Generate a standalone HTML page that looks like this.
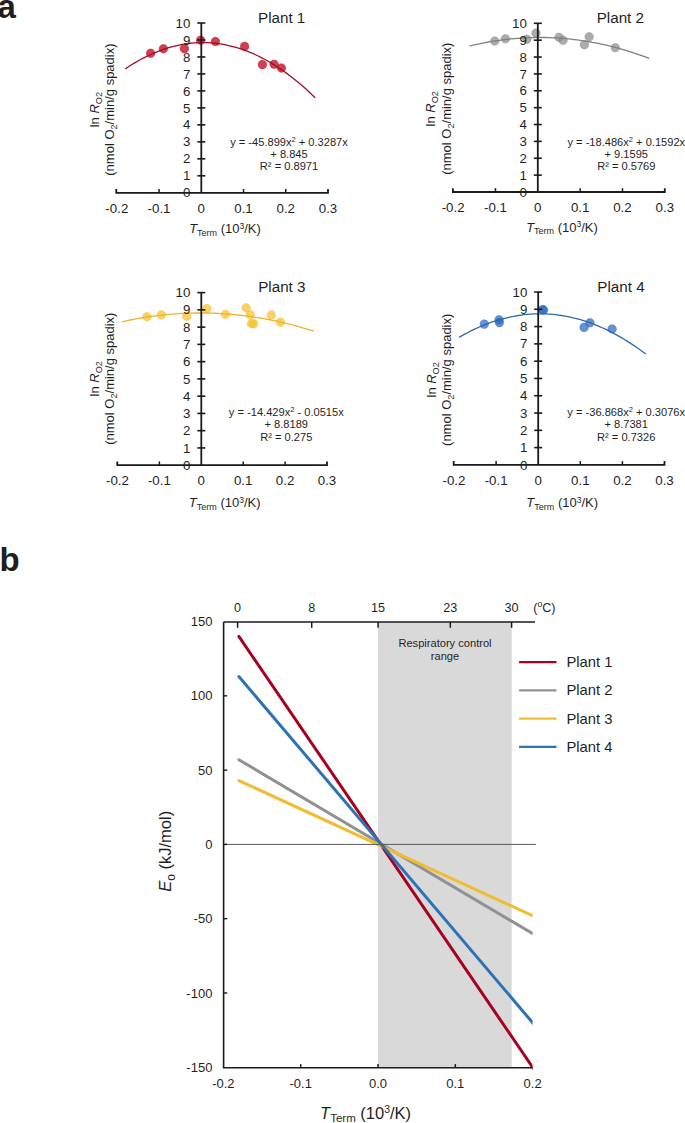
<!DOCTYPE html>
<html><head><meta charset="utf-8"><style>
html,body{margin:0;padding:0;background:#fff;width:685px;height:1123px;overflow:hidden}
svg{display:block}
text{font-family:"Liberation Sans", sans-serif;fill:#1f1f1f}
</style></head><body>
<svg width="685" height="1123" viewBox="0 0 685 1123">
<circle cx="150.6" cy="53.3" r="4.3" fill="#bc0218" fill-opacity="0.75" stroke="#bc0218" stroke-opacity="0.85" stroke-width="0.5"/>
<circle cx="163.4" cy="48.8" r="4.3" fill="#bc0218" fill-opacity="0.75" stroke="#bc0218" stroke-opacity="0.85" stroke-width="0.5"/>
<circle cx="184.4" cy="48.6" r="4.3" fill="#bc0218" fill-opacity="0.75" stroke="#bc0218" stroke-opacity="0.85" stroke-width="0.5"/>
<circle cx="200.6" cy="40.2" r="4.3" fill="#bc0218" fill-opacity="0.75" stroke="#bc0218" stroke-opacity="0.85" stroke-width="0.5"/>
<circle cx="215.4" cy="41.5" r="4.3" fill="#bc0218" fill-opacity="0.75" stroke="#bc0218" stroke-opacity="0.85" stroke-width="0.5"/>
<circle cx="244.6" cy="46.4" r="4.3" fill="#bc0218" fill-opacity="0.75" stroke="#bc0218" stroke-opacity="0.85" stroke-width="0.5"/>
<circle cx="262.4" cy="64.6" r="4.3" fill="#bc0218" fill-opacity="0.75" stroke="#bc0218" stroke-opacity="0.85" stroke-width="0.5"/>
<circle cx="274.1" cy="64.3" r="4.3" fill="#bc0218" fill-opacity="0.75" stroke="#bc0218" stroke-opacity="0.85" stroke-width="0.5"/>
<circle cx="281.4" cy="68.0" r="4.3" fill="#bc0218" fill-opacity="0.75" stroke="#bc0218" stroke-opacity="0.85" stroke-width="0.5"/>
<polyline points="125.26 68.88 128.43 66.78 131.59 64.77 134.76 62.84 137.92 61.00 141.09 59.25 144.25 57.59 147.42 56.01 150.58 54.52 153.75 53.12 156.91 51.81 160.08 50.58 163.25 49.44 166.41 48.39 169.58 47.43 172.74 46.55 175.91 45.76 179.07 45.06 182.24 44.45 185.40 43.93 188.57 43.49 191.73 43.14 194.90 42.88 198.07 42.70 201.23 42.61 204.40 42.61 207.56 42.70 210.73 42.88 213.89 43.14 217.06 43.49 220.22 43.93 223.39 44.45 226.55 45.06 229.72 45.77 232.89 46.55 236.05 47.43 239.22 48.39 242.38 49.44 245.55 50.58 248.71 51.81 251.88 53.12 255.04 54.52 258.21 56.01 261.37 57.59 264.54 59.25 267.70 61.00 270.87 62.84 274.04 64.77 277.20 66.78 280.37 68.88 283.53 71.07 286.70 73.35 289.86 75.71 293.03 78.17 296.19 80.70 299.36 83.33 302.52 86.05 305.69 88.85 308.86 91.74 312.02 94.72 315.19 97.78" fill="none" stroke="#a50a28" stroke-width="1.3"/>
<path d="M116.30 189.00V192.80H328.00V189.00" fill="none" stroke="#1a1a1a" stroke-width="1.8"/>
<line x1="159.07" y1="192.80" x2="159.07" y2="189.00" stroke="#1a1a1a" stroke-width="1.5"/>
<line x1="243.53" y1="192.80" x2="243.53" y2="189.00" stroke="#1a1a1a" stroke-width="1.5"/>
<line x1="285.77" y1="192.80" x2="285.77" y2="189.00" stroke="#1a1a1a" stroke-width="1.5"/>
<line x1="201.30" y1="23.00" x2="201.30" y2="192.80" stroke="#1a1a1a" stroke-width="1.8"/>
<line x1="197.30" y1="175.82" x2="205.30" y2="175.82" stroke="#1a1a1a" stroke-width="1.6"/>
<line x1="197.30" y1="158.84" x2="205.30" y2="158.84" stroke="#1a1a1a" stroke-width="1.6"/>
<line x1="197.30" y1="141.86" x2="205.30" y2="141.86" stroke="#1a1a1a" stroke-width="1.6"/>
<line x1="197.30" y1="124.88" x2="205.30" y2="124.88" stroke="#1a1a1a" stroke-width="1.6"/>
<line x1="197.30" y1="107.90" x2="205.30" y2="107.90" stroke="#1a1a1a" stroke-width="1.6"/>
<line x1="197.30" y1="90.92" x2="205.30" y2="90.92" stroke="#1a1a1a" stroke-width="1.6"/>
<line x1="197.30" y1="73.94" x2="205.30" y2="73.94" stroke="#1a1a1a" stroke-width="1.6"/>
<line x1="197.30" y1="56.96" x2="205.30" y2="56.96" stroke="#1a1a1a" stroke-width="1.6"/>
<line x1="197.30" y1="39.98" x2="205.30" y2="39.98" stroke="#1a1a1a" stroke-width="1.6"/>
<line x1="197.30" y1="23.00" x2="205.30" y2="23.00" stroke="#1a1a1a" stroke-width="1.6"/>
<text x="190.40" y="197.40" text-anchor="end" font-size="13.3">0</text>
<text x="190.40" y="180.42" text-anchor="end" font-size="13.3">1</text>
<text x="190.40" y="163.44" text-anchor="end" font-size="13.3">2</text>
<text x="190.40" y="146.46" text-anchor="end" font-size="13.3">3</text>
<text x="190.40" y="129.48" text-anchor="end" font-size="13.3">4</text>
<text x="190.40" y="112.50" text-anchor="end" font-size="13.3">5</text>
<text x="190.40" y="95.52" text-anchor="end" font-size="13.3">6</text>
<text x="190.40" y="78.54" text-anchor="end" font-size="13.3">7</text>
<text x="190.40" y="61.56" text-anchor="end" font-size="13.3">8</text>
<text x="190.40" y="44.58" text-anchor="end" font-size="13.3">9</text>
<text x="190.40" y="27.60" text-anchor="end" font-size="13.3">10</text>
<text x="116.83" y="212.50" text-anchor="middle" font-size="13.3">-0.2</text>
<text x="159.07" y="212.50" text-anchor="middle" font-size="13.3">-0.1</text>
<text x="201.30" y="212.50" text-anchor="middle" font-size="13.3">0</text>
<text x="243.53" y="212.50" text-anchor="middle" font-size="13.3">0.1</text>
<text x="285.77" y="212.50" text-anchor="middle" font-size="13.3">0.2</text>
<text x="328.00" y="212.50" text-anchor="middle" font-size="13.3">0.3</text>
<text x="258.00" y="22.80" font-size="15.2">Plant 1</text>
<text x="289.00" y="145.80" text-anchor="middle" font-size="11.1">y = -45.899x<tspan dy="-4" font-size="7.5">2</tspan><tspan dy="4"> + 0.3287x</tspan></text>
<text x="289.00" y="158.10" text-anchor="middle" font-size="11.1">+ 8.845</text>
<text x="289.00" y="170.40" text-anchor="middle" font-size="11.1">R² = 0.8971</text>
<text x="225.00" y="233.40" text-anchor="middle" font-size="13"><tspan font-style="italic">T</tspan><tspan font-size="9" dy="2.5">Term</tspan><tspan dy="-2.5"> (10</tspan><tspan font-size="8.5" dy="-4.5">3</tspan><tspan dy="4.5">/K)</tspan></text>
<g transform="translate(98.90,109.60) rotate(-90)"><text x="0" y="0" text-anchor="middle" font-size="13">ln <tspan font-style="italic">R</tspan><tspan font-size="9.2" dy="2.8">O2</tspan></text></g>
<g transform="translate(114.20,109.60) rotate(-90)"><text x="0" y="0" text-anchor="middle" font-size="13">(nmol O<tspan font-size="9.2" dy="2.8">2</tspan><tspan dy="-2.8">/min/g spadix)</tspan></text></g>
<circle cx="494.7" cy="41.0" r="4.3" fill="#8c8c8c" fill-opacity="0.72" stroke="#8c8c8c" stroke-opacity="0.85" stroke-width="0.5"/>
<circle cx="505.4" cy="38.8" r="4.3" fill="#8c8c8c" fill-opacity="0.72" stroke="#8c8c8c" stroke-opacity="0.85" stroke-width="0.5"/>
<circle cx="526.8" cy="39.2" r="4.3" fill="#8c8c8c" fill-opacity="0.72" stroke="#8c8c8c" stroke-opacity="0.85" stroke-width="0.5"/>
<circle cx="536.0" cy="33.1" r="4.3" fill="#8c8c8c" fill-opacity="0.72" stroke="#8c8c8c" stroke-opacity="0.85" stroke-width="0.5"/>
<circle cx="559.0" cy="37.3" r="4.3" fill="#8c8c8c" fill-opacity="0.72" stroke="#8c8c8c" stroke-opacity="0.85" stroke-width="0.5"/>
<circle cx="563.0" cy="40.3" r="4.3" fill="#8c8c8c" fill-opacity="0.72" stroke="#8c8c8c" stroke-opacity="0.85" stroke-width="0.5"/>
<circle cx="584.4" cy="44.7" r="4.3" fill="#8c8c8c" fill-opacity="0.72" stroke="#8c8c8c" stroke-opacity="0.85" stroke-width="0.5"/>
<circle cx="589.2" cy="36.8" r="4.3" fill="#8c8c8c" fill-opacity="0.72" stroke="#8c8c8c" stroke-opacity="0.85" stroke-width="0.5"/>
<circle cx="615.3" cy="47.7" r="4.3" fill="#8c8c8c" fill-opacity="0.72" stroke="#8c8c8c" stroke-opacity="0.85" stroke-width="0.5"/>
<polyline points="469.30 46.08 472.30 45.36 475.30 44.67 478.29 44.02 481.29 43.39 484.29 42.80 487.29 42.24 490.28 41.71 493.28 41.21 496.28 40.74 499.28 40.31 502.28 39.90 505.27 39.53 508.27 39.18 511.27 38.87 514.27 38.59 517.26 38.34 520.26 38.13 523.26 37.94 526.26 37.78 529.26 37.66 532.25 37.57 535.25 37.51 538.25 37.48 541.25 37.48 544.24 37.51 547.24 37.57 550.24 37.67 553.24 37.80 556.24 37.95 559.23 38.14 562.23 38.36 565.23 38.61 568.23 38.90 571.22 39.21 574.22 39.56 577.22 39.93 580.22 40.34 583.22 40.78 586.21 41.25 589.21 41.75 592.21 42.29 595.21 42.85 598.20 43.45 601.20 44.07 604.20 44.73 607.20 45.42 610.20 46.14 613.19 46.89 616.19 47.68 619.19 48.49 622.19 49.34 625.18 50.21 628.18 51.12 631.18 52.06 634.18 53.03 637.18 54.03 640.17 55.07 643.17 56.13 646.17 57.23 649.17 58.36" fill="none" stroke="#808080" stroke-width="1.3"/>
<path d="M452.90 188.20V192.00H664.80V188.20" fill="none" stroke="#1a1a1a" stroke-width="1.8"/>
<line x1="495.47" y1="192.00" x2="495.47" y2="188.20" stroke="#1a1a1a" stroke-width="1.5"/>
<line x1="580.13" y1="192.00" x2="580.13" y2="188.20" stroke="#1a1a1a" stroke-width="1.5"/>
<line x1="622.47" y1="192.00" x2="622.47" y2="188.20" stroke="#1a1a1a" stroke-width="1.5"/>
<line x1="537.80" y1="23.30" x2="537.80" y2="192.00" stroke="#1a1a1a" stroke-width="1.8"/>
<line x1="533.80" y1="175.13" x2="541.80" y2="175.13" stroke="#1a1a1a" stroke-width="1.6"/>
<line x1="533.80" y1="158.26" x2="541.80" y2="158.26" stroke="#1a1a1a" stroke-width="1.6"/>
<line x1="533.80" y1="141.39" x2="541.80" y2="141.39" stroke="#1a1a1a" stroke-width="1.6"/>
<line x1="533.80" y1="124.52" x2="541.80" y2="124.52" stroke="#1a1a1a" stroke-width="1.6"/>
<line x1="533.80" y1="107.65" x2="541.80" y2="107.65" stroke="#1a1a1a" stroke-width="1.6"/>
<line x1="533.80" y1="90.78" x2="541.80" y2="90.78" stroke="#1a1a1a" stroke-width="1.6"/>
<line x1="533.80" y1="73.91" x2="541.80" y2="73.91" stroke="#1a1a1a" stroke-width="1.6"/>
<line x1="533.80" y1="57.04" x2="541.80" y2="57.04" stroke="#1a1a1a" stroke-width="1.6"/>
<line x1="533.80" y1="40.17" x2="541.80" y2="40.17" stroke="#1a1a1a" stroke-width="1.6"/>
<line x1="533.80" y1="23.30" x2="541.80" y2="23.30" stroke="#1a1a1a" stroke-width="1.6"/>
<text x="526.90" y="196.60" text-anchor="end" font-size="13.3">0</text>
<text x="526.90" y="179.73" text-anchor="end" font-size="13.3">1</text>
<text x="526.90" y="162.86" text-anchor="end" font-size="13.3">2</text>
<text x="526.90" y="145.99" text-anchor="end" font-size="13.3">3</text>
<text x="526.90" y="129.12" text-anchor="end" font-size="13.3">4</text>
<text x="526.90" y="112.25" text-anchor="end" font-size="13.3">5</text>
<text x="526.90" y="95.38" text-anchor="end" font-size="13.3">6</text>
<text x="526.90" y="78.51" text-anchor="end" font-size="13.3">7</text>
<text x="526.90" y="61.64" text-anchor="end" font-size="13.3">8</text>
<text x="526.90" y="44.77" text-anchor="end" font-size="13.3">9</text>
<text x="526.90" y="27.90" text-anchor="end" font-size="13.3">10</text>
<text x="453.13" y="211.70" text-anchor="middle" font-size="13.3">-0.2</text>
<text x="495.47" y="211.70" text-anchor="middle" font-size="13.3">-0.1</text>
<text x="537.80" y="211.70" text-anchor="middle" font-size="13.3">0</text>
<text x="580.13" y="211.70" text-anchor="middle" font-size="13.3">0.1</text>
<text x="622.47" y="211.70" text-anchor="middle" font-size="13.3">0.2</text>
<text x="664.80" y="211.70" text-anchor="middle" font-size="13.3">0.3</text>
<text x="596.70" y="22.90" font-size="15.2">Plant 2</text>
<text x="626.30" y="145.50" text-anchor="middle" font-size="11.1">y = -18.486x<tspan dy="-4" font-size="7.5">2</tspan><tspan dy="4"> + 0.1592x</tspan></text>
<text x="626.30" y="157.80" text-anchor="middle" font-size="11.1">+ 9.1595</text>
<text x="626.30" y="170.10" text-anchor="middle" font-size="11.1">R² = 0.5769</text>
<text x="562.00" y="231.90" text-anchor="middle" font-size="13"><tspan font-style="italic">T</tspan><tspan font-size="9" dy="2.5">Term</tspan><tspan dy="-2.5"> (10</tspan><tspan font-size="8.5" dy="-4.5">3</tspan><tspan dy="4.5">/K)</tspan></text>
<g transform="translate(435.40,108.70) rotate(-90)"><text x="0" y="0" text-anchor="middle" font-size="13">ln <tspan font-style="italic">R</tspan><tspan font-size="9.2" dy="2.8">O2</tspan></text></g>
<g transform="translate(450.70,108.70) rotate(-90)"><text x="0" y="0" text-anchor="middle" font-size="13">(nmol O<tspan font-size="9.2" dy="2.8">2</tspan><tspan dy="-2.8">/min/g spadix)</tspan></text></g>
<circle cx="147.0" cy="316.7" r="4.3" fill="#f7c02a" fill-opacity="0.72" stroke="#f7c02a" stroke-opacity="0.85" stroke-width="0.5"/>
<circle cx="161.3" cy="314.9" r="4.3" fill="#f7c02a" fill-opacity="0.72" stroke="#f7c02a" stroke-opacity="0.85" stroke-width="0.5"/>
<circle cx="186.7" cy="316.3" r="4.3" fill="#f7c02a" fill-opacity="0.72" stroke="#f7c02a" stroke-opacity="0.85" stroke-width="0.5"/>
<circle cx="206.8" cy="308.6" r="4.3" fill="#f7c02a" fill-opacity="0.72" stroke="#f7c02a" stroke-opacity="0.85" stroke-width="0.5"/>
<circle cx="225.5" cy="314.3" r="4.3" fill="#f7c02a" fill-opacity="0.72" stroke="#f7c02a" stroke-opacity="0.85" stroke-width="0.5"/>
<circle cx="246.2" cy="307.7" r="4.3" fill="#f7c02a" fill-opacity="0.72" stroke="#f7c02a" stroke-opacity="0.85" stroke-width="0.5"/>
<circle cx="250.3" cy="314.7" r="4.3" fill="#f7c02a" fill-opacity="0.72" stroke="#f7c02a" stroke-opacity="0.85" stroke-width="0.5"/>
<circle cx="251.5" cy="323.5" r="4.3" fill="#f7c02a" fill-opacity="0.72" stroke="#f7c02a" stroke-opacity="0.85" stroke-width="0.5"/>
<circle cx="253.8" cy="323.8" r="4.3" fill="#f7c02a" fill-opacity="0.72" stroke="#f7c02a" stroke-opacity="0.85" stroke-width="0.5"/>
<circle cx="271.3" cy="315.1" r="4.3" fill="#f7c02a" fill-opacity="0.72" stroke="#f7c02a" stroke-opacity="0.85" stroke-width="0.5"/>
<circle cx="280.4" cy="322.1" r="4.3" fill="#f7c02a" fill-opacity="0.72" stroke="#f7c02a" stroke-opacity="0.85" stroke-width="0.5"/>
<polyline points="121.86 321.77 125.06 321.07 128.26 320.40 131.46 319.76 134.66 319.14 137.87 318.56 141.07 318.00 144.27 317.48 147.47 316.98 150.67 316.51 153.87 316.08 157.07 315.67 160.27 315.29 163.47 314.94 166.67 314.61 169.88 314.32 173.08 314.06 176.28 313.82 179.48 313.62 182.68 313.44 185.88 313.29 189.08 313.17 192.28 313.08 195.48 313.02 198.68 312.99 201.88 312.99 205.09 313.01 208.29 313.07 211.49 313.15 214.69 313.27 217.89 313.41 221.09 313.58 224.29 313.78 227.49 314.01 230.69 314.27 233.89 314.56 237.10 314.88 240.30 315.23 243.50 315.60 246.70 316.01 249.90 316.44 253.10 316.90 256.30 317.39 259.50 317.91 262.70 318.46 265.90 319.04 269.11 319.65 272.31 320.29 275.51 320.96 278.71 321.65 281.91 322.37 285.11 323.13 288.31 323.91 291.51 324.72 294.71 325.56 297.91 326.43 301.12 327.33 304.32 328.26 307.52 329.22 310.72 330.20 313.92 331.22" fill="none" stroke="#efb22c" stroke-width="1.3"/>
<path d="M117.30 461.40V465.20H327.00V461.40" fill="none" stroke="#1a1a1a" stroke-width="1.8"/>
<line x1="159.40" y1="465.20" x2="159.40" y2="461.40" stroke="#1a1a1a" stroke-width="1.5"/>
<line x1="243.20" y1="465.20" x2="243.20" y2="461.40" stroke="#1a1a1a" stroke-width="1.5"/>
<line x1="285.10" y1="465.20" x2="285.10" y2="461.40" stroke="#1a1a1a" stroke-width="1.5"/>
<line x1="201.30" y1="292.60" x2="201.30" y2="465.20" stroke="#1a1a1a" stroke-width="1.8"/>
<line x1="197.30" y1="447.94" x2="205.30" y2="447.94" stroke="#1a1a1a" stroke-width="1.6"/>
<line x1="197.30" y1="430.68" x2="205.30" y2="430.68" stroke="#1a1a1a" stroke-width="1.6"/>
<line x1="197.30" y1="413.42" x2="205.30" y2="413.42" stroke="#1a1a1a" stroke-width="1.6"/>
<line x1="197.30" y1="396.16" x2="205.30" y2="396.16" stroke="#1a1a1a" stroke-width="1.6"/>
<line x1="197.30" y1="378.90" x2="205.30" y2="378.90" stroke="#1a1a1a" stroke-width="1.6"/>
<line x1="197.30" y1="361.64" x2="205.30" y2="361.64" stroke="#1a1a1a" stroke-width="1.6"/>
<line x1="197.30" y1="344.38" x2="205.30" y2="344.38" stroke="#1a1a1a" stroke-width="1.6"/>
<line x1="197.30" y1="327.12" x2="205.30" y2="327.12" stroke="#1a1a1a" stroke-width="1.6"/>
<line x1="197.30" y1="309.86" x2="205.30" y2="309.86" stroke="#1a1a1a" stroke-width="1.6"/>
<line x1="197.30" y1="292.60" x2="205.30" y2="292.60" stroke="#1a1a1a" stroke-width="1.6"/>
<text x="190.40" y="469.80" text-anchor="end" font-size="13.3">0</text>
<text x="190.40" y="452.54" text-anchor="end" font-size="13.3">1</text>
<text x="190.40" y="435.28" text-anchor="end" font-size="13.3">2</text>
<text x="190.40" y="418.02" text-anchor="end" font-size="13.3">3</text>
<text x="190.40" y="400.76" text-anchor="end" font-size="13.3">4</text>
<text x="190.40" y="383.50" text-anchor="end" font-size="13.3">5</text>
<text x="190.40" y="366.24" text-anchor="end" font-size="13.3">6</text>
<text x="190.40" y="348.98" text-anchor="end" font-size="13.3">7</text>
<text x="190.40" y="331.72" text-anchor="end" font-size="13.3">8</text>
<text x="190.40" y="314.46" text-anchor="end" font-size="13.3">9</text>
<text x="190.40" y="297.20" text-anchor="end" font-size="13.3">10</text>
<text x="117.50" y="484.90" text-anchor="middle" font-size="13.3">-0.2</text>
<text x="159.40" y="484.90" text-anchor="middle" font-size="13.3">-0.1</text>
<text x="201.30" y="484.90" text-anchor="middle" font-size="13.3">0</text>
<text x="243.20" y="484.90" text-anchor="middle" font-size="13.3">0.1</text>
<text x="285.10" y="484.90" text-anchor="middle" font-size="13.3">0.2</text>
<text x="327.00" y="484.90" text-anchor="middle" font-size="13.3">0.3</text>
<text x="258.20" y="292.00" font-size="15.2">Plant 3</text>
<text x="286.30" y="416.10" text-anchor="middle" font-size="11.1">y = -14.429x<tspan dy="-4" font-size="7.5">2</tspan><tspan dy="4"> - 0.0515x</tspan></text>
<text x="286.30" y="428.40" text-anchor="middle" font-size="11.1">+ 8.8189</text>
<text x="286.30" y="440.70" text-anchor="middle" font-size="11.1">R² = 0.275</text>
<text x="224.70" y="507.00" text-anchor="middle" font-size="13"><tspan font-style="italic">T</tspan><tspan font-size="9" dy="2.5">Term</tspan><tspan dy="-2.5"> (10</tspan><tspan font-size="8.5" dy="-4.5">3</tspan><tspan dy="4.5">/K)</tspan></text>
<g transform="translate(98.90,378.70) rotate(-90)"><text x="0" y="0" text-anchor="middle" font-size="13">ln <tspan font-style="italic">R</tspan><tspan font-size="9.2" dy="2.8">O2</tspan></text></g>
<g transform="translate(114.20,378.70) rotate(-90)"><text x="0" y="0" text-anchor="middle" font-size="13">(nmol O<tspan font-size="9.2" dy="2.8">2</tspan><tspan dy="-2.8">/min/g spadix)</tspan></text></g>
<circle cx="484.3" cy="324.1" r="4.3" fill="#2a68c0" fill-opacity="0.72" stroke="#2a68c0" stroke-opacity="0.85" stroke-width="0.5"/>
<circle cx="499.0" cy="319.8" r="4.3" fill="#2a68c0" fill-opacity="0.72" stroke="#2a68c0" stroke-opacity="0.85" stroke-width="0.5"/>
<circle cx="499.4" cy="322.6" r="4.3" fill="#2a68c0" fill-opacity="0.72" stroke="#2a68c0" stroke-opacity="0.85" stroke-width="0.5"/>
<circle cx="542.6" cy="309.6" r="4.3" fill="#2a68c0" fill-opacity="0.72" stroke="#2a68c0" stroke-opacity="0.85" stroke-width="0.5"/>
<circle cx="543.6" cy="310.0" r="4.3" fill="#2a68c0" fill-opacity="0.72" stroke="#2a68c0" stroke-opacity="0.85" stroke-width="0.5"/>
<circle cx="584.1" cy="327.4" r="4.3" fill="#2a68c0" fill-opacity="0.72" stroke="#2a68c0" stroke-opacity="0.85" stroke-width="0.5"/>
<circle cx="589.9" cy="322.8" r="4.3" fill="#2a68c0" fill-opacity="0.72" stroke="#2a68c0" stroke-opacity="0.85" stroke-width="0.5"/>
<circle cx="612.1" cy="329.0" r="4.3" fill="#2a68c0" fill-opacity="0.72" stroke="#2a68c0" stroke-opacity="0.85" stroke-width="0.5"/>
<polyline points="459.04 337.36 462.15 335.58 465.26 333.87 468.38 332.23 471.49 330.67 474.60 329.17 477.71 327.74 480.83 326.38 483.94 325.09 487.05 323.87 490.16 322.72 493.28 321.64 496.39 320.63 499.50 319.69 502.61 318.82 505.73 318.02 508.84 317.29 511.95 316.63 515.06 316.04 518.17 315.51 521.29 315.06 524.40 314.68 527.51 314.36 530.62 314.12 533.74 313.95 536.85 313.84 539.96 313.81 543.07 313.84 546.19 313.95 549.30 314.12 552.41 314.36 555.52 314.68 558.63 315.06 561.75 315.51 564.86 316.04 567.97 316.63 571.08 317.29 574.20 318.02 577.31 318.83 580.42 319.70 583.53 320.64 586.65 321.65 589.76 322.73 592.87 323.88 595.98 325.10 599.10 326.39 602.21 327.74 605.32 329.17 608.43 330.67 611.54 332.24 614.66 333.88 617.77 335.58 620.88 337.36 623.99 339.21 627.11 341.12 630.22 343.11 633.33 345.16 636.44 347.29 639.56 349.48 642.67 351.75 645.78 354.08" fill="none" stroke="#2c6aae" stroke-width="1.3"/>
<path d="M453.70 461.10V464.90H664.50V461.10" fill="none" stroke="#1a1a1a" stroke-width="1.8"/>
<line x1="496.10" y1="464.90" x2="496.10" y2="461.10" stroke="#1a1a1a" stroke-width="1.5"/>
<line x1="580.30" y1="464.90" x2="580.30" y2="461.10" stroke="#1a1a1a" stroke-width="1.5"/>
<line x1="622.40" y1="464.90" x2="622.40" y2="461.10" stroke="#1a1a1a" stroke-width="1.5"/>
<line x1="538.20" y1="292.00" x2="538.20" y2="464.90" stroke="#1a1a1a" stroke-width="1.8"/>
<line x1="534.20" y1="447.61" x2="542.20" y2="447.61" stroke="#1a1a1a" stroke-width="1.6"/>
<line x1="534.20" y1="430.32" x2="542.20" y2="430.32" stroke="#1a1a1a" stroke-width="1.6"/>
<line x1="534.20" y1="413.03" x2="542.20" y2="413.03" stroke="#1a1a1a" stroke-width="1.6"/>
<line x1="534.20" y1="395.74" x2="542.20" y2="395.74" stroke="#1a1a1a" stroke-width="1.6"/>
<line x1="534.20" y1="378.45" x2="542.20" y2="378.45" stroke="#1a1a1a" stroke-width="1.6"/>
<line x1="534.20" y1="361.16" x2="542.20" y2="361.16" stroke="#1a1a1a" stroke-width="1.6"/>
<line x1="534.20" y1="343.87" x2="542.20" y2="343.87" stroke="#1a1a1a" stroke-width="1.6"/>
<line x1="534.20" y1="326.58" x2="542.20" y2="326.58" stroke="#1a1a1a" stroke-width="1.6"/>
<line x1="534.20" y1="309.29" x2="542.20" y2="309.29" stroke="#1a1a1a" stroke-width="1.6"/>
<line x1="534.20" y1="292.00" x2="542.20" y2="292.00" stroke="#1a1a1a" stroke-width="1.6"/>
<text x="527.30" y="469.50" text-anchor="end" font-size="13.3">0</text>
<text x="527.30" y="452.21" text-anchor="end" font-size="13.3">1</text>
<text x="527.30" y="434.92" text-anchor="end" font-size="13.3">2</text>
<text x="527.30" y="417.63" text-anchor="end" font-size="13.3">3</text>
<text x="527.30" y="400.34" text-anchor="end" font-size="13.3">4</text>
<text x="527.30" y="383.05" text-anchor="end" font-size="13.3">5</text>
<text x="527.30" y="365.76" text-anchor="end" font-size="13.3">6</text>
<text x="527.30" y="348.47" text-anchor="end" font-size="13.3">7</text>
<text x="527.30" y="331.18" text-anchor="end" font-size="13.3">8</text>
<text x="527.30" y="313.89" text-anchor="end" font-size="13.3">9</text>
<text x="527.30" y="296.60" text-anchor="end" font-size="13.3">10</text>
<text x="454.00" y="484.60" text-anchor="middle" font-size="13.3">-0.2</text>
<text x="496.10" y="484.60" text-anchor="middle" font-size="13.3">-0.1</text>
<text x="538.20" y="484.60" text-anchor="middle" font-size="13.3">0</text>
<text x="580.30" y="484.60" text-anchor="middle" font-size="13.3">0.1</text>
<text x="622.40" y="484.60" text-anchor="middle" font-size="13.3">0.2</text>
<text x="664.50" y="484.60" text-anchor="middle" font-size="13.3">0.3</text>
<text x="597.30" y="292.00" font-size="15.2">Plant 4</text>
<text x="626.20" y="416.10" text-anchor="middle" font-size="11.1">y = -36.868x<tspan dy="-4" font-size="7.5">2</tspan><tspan dy="4"> + 0.3076x</tspan></text>
<text x="626.20" y="428.40" text-anchor="middle" font-size="11.1">+ 8.7381</text>
<text x="626.20" y="440.70" text-anchor="middle" font-size="11.1">R² = 0.7326</text>
<text x="562.20" y="507.00" text-anchor="middle" font-size="13"><tspan font-style="italic">T</tspan><tspan font-size="9" dy="2.5">Term</tspan><tspan dy="-2.5"> (10</tspan><tspan font-size="8.5" dy="-4.5">3</tspan><tspan dy="4.5">/K)</tspan></text>
<g transform="translate(435.80,379.80) rotate(-90)"><text x="0" y="0" text-anchor="middle" font-size="13">ln <tspan font-style="italic">R</tspan><tspan font-size="9.2" dy="2.8">O2</tspan></text></g>
<g transform="translate(451.10,379.80) rotate(-90)"><text x="0" y="0" text-anchor="middle" font-size="13">(nmol O<tspan font-size="9.2" dy="2.8">2</tspan><tspan dy="-2.8">/min/g spadix)</tspan></text></g>
<rect x="378.00" y="622.00" width="133.70" height="445.70" fill="#d9d9d9"/>
<defs><clipPath id="cb"><rect x="223.6" y="617.0" width="309.00" height="455.70000000000005"/></clipPath></defs>
<g clip-path="url(#cb)">
<line x1="238.86" y1="636.41" x2="536.47" y2="1072.92" stroke="#a8001f" stroke-width="3" stroke-linecap="round"/>
<line x1="238.86" y1="759.72" x2="536.47" y2="935.83" stroke="#919191" stroke-width="3" stroke-linecap="round"/>
<line x1="238.86" y1="780.52" x2="536.47" y2="917.49" stroke="#f2bc30" stroke-width="3" stroke-linecap="round"/>
<line x1="238.86" y1="676.52" x2="536.47" y2="1027.23" stroke="#2e72b6" stroke-width="3" stroke-linecap="round"/>
</g>
<line x1="223.60" y1="844.40" x2="535.8" y2="844.40" stroke="#595959" stroke-width="1"/>
<path d="M223.60 622.00V1067.70H532.60" fill="none" stroke="#1a1a1a" stroke-width="1.6"/>
<line x1="223.60" y1="622.00" x2="535" y2="622.00" stroke="#1a1a1a" stroke-width="1.5"/>
<line x1="223.60" y1="695.83" x2="227.20" y2="695.83" stroke="#1a1a1a" stroke-width="1.4"/>
<line x1="223.60" y1="770.12" x2="227.20" y2="770.12" stroke="#1a1a1a" stroke-width="1.4"/>
<line x1="223.60" y1="844.40" x2="227.20" y2="844.40" stroke="#1a1a1a" stroke-width="1.4"/>
<line x1="223.60" y1="918.68" x2="227.20" y2="918.68" stroke="#1a1a1a" stroke-width="1.4"/>
<line x1="223.60" y1="992.97" x2="227.20" y2="992.97" stroke="#1a1a1a" stroke-width="1.4"/>
<text x="212.40" y="626.15" text-anchor="end" font-size="13">150</text>
<text x="212.40" y="700.43" text-anchor="end" font-size="13">100</text>
<text x="212.40" y="774.72" text-anchor="end" font-size="13">50</text>
<text x="212.40" y="849.00" text-anchor="end" font-size="13">0</text>
<text x="212.40" y="923.28" text-anchor="end" font-size="13">-50</text>
<text x="212.40" y="997.57" text-anchor="end" font-size="13">-100</text>
<text x="212.40" y="1071.85" text-anchor="end" font-size="13">-150</text>
<line x1="300.70" y1="1067.70" x2="300.70" y2="1064.10" stroke="#1a1a1a" stroke-width="1.5"/>
<line x1="378.00" y1="1067.70" x2="378.00" y2="1064.10" stroke="#1a1a1a" stroke-width="1.5"/>
<line x1="455.30" y1="1067.70" x2="455.30" y2="1064.10" stroke="#1a1a1a" stroke-width="1.5"/>
<text x="223.40" y="1087.50" text-anchor="middle" font-size="13">-0.2</text>
<text x="300.70" y="1087.50" text-anchor="middle" font-size="13">-0.1</text>
<text x="378.00" y="1087.50" text-anchor="middle" font-size="13">0.0</text>
<text x="455.30" y="1087.50" text-anchor="middle" font-size="13">0.1</text>
<text x="532.60" y="1087.50" text-anchor="middle" font-size="13">0.2</text>
<line x1="237.60" y1="622.00" x2="237.60" y2="627.80" stroke="#1a1a1a" stroke-width="1.5"/>
<text x="237.60" y="611.7" text-anchor="middle" font-size="12.6">0</text>
<line x1="311.70" y1="622.00" x2="311.70" y2="627.80" stroke="#1a1a1a" stroke-width="1.5"/>
<text x="311.70" y="611.7" text-anchor="middle" font-size="12.6">8</text>
<line x1="378.10" y1="622.00" x2="378.10" y2="627.80" stroke="#1a1a1a" stroke-width="1.5"/>
<text x="378.10" y="611.7" text-anchor="middle" font-size="12.6">15</text>
<line x1="450.30" y1="622.00" x2="450.30" y2="627.80" stroke="#1a1a1a" stroke-width="1.5"/>
<text x="450.30" y="611.7" text-anchor="middle" font-size="12.6">23</text>
<line x1="511.60" y1="622.00" x2="511.60" y2="627.80" stroke="#1a1a1a" stroke-width="1.5"/>
<text x="511.60" y="611.7" text-anchor="middle" font-size="12.6">30</text>
<text x="533.2" y="611.7" font-size="12.6">(<tspan font-size="8.6" dy="-4.6">o</tspan><tspan dy="4.5">C)</tspan></text>
<text x="445" y="647.2" text-anchor="middle" font-size="11.1" fill="#262626">Respiratory control</text>
<text x="445" y="659.5" text-anchor="middle" font-size="11.1" fill="#262626">range</text>
<line x1="519.1" y1="662.20" x2="556.5" y2="662.20" stroke="#a8001f" stroke-width="2.3"/>
<text x="566.4" y="667.20" font-size="14.8">Plant 1</text>
<line x1="519.1" y1="690.40" x2="556.5" y2="690.40" stroke="#919191" stroke-width="2.3"/>
<text x="566.4" y="695.40" font-size="14.8">Plant 2</text>
<line x1="519.1" y1="718.60" x2="556.5" y2="718.60" stroke="#f2bc30" stroke-width="2.3"/>
<text x="566.4" y="723.60" font-size="14.8">Plant 3</text>
<line x1="519.1" y1="746.80" x2="556.5" y2="746.80" stroke="#2e72b6" stroke-width="2.3"/>
<text x="566.4" y="751.80" font-size="14.8">Plant 4</text>
<text x="365.60" y="1118.8" text-anchor="middle" font-size="16.5"><tspan font-style="italic">T</tspan><tspan font-size="11.5" dy="3">Term</tspan><tspan dy="-3"> (10</tspan><tspan font-size="10.5" dy="-6">3</tspan><tspan dy="6">/K)</tspan></text>
<g transform="translate(171.2,851.3) rotate(-90)"><text x="0" y="0" text-anchor="middle" font-size="16.5"><tspan font-style="italic">E</tspan><tspan font-size="12" dy="3.5">o</tspan><tspan dy="-3.5"> (kJ/mol)</tspan></text></g>
<text x="-2.5" y="17.5" font-size="33" font-weight="bold">a</text>
<text x="-0.5" y="570.6" font-size="33" font-weight="bold">b</text>
</svg>
</body></html>
